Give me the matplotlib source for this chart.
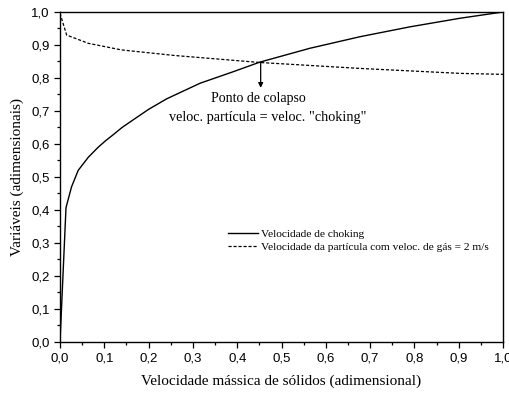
import numpy as np
import matplotlib.pyplot as plt
from matplotlib.ticker import MultipleLocator, FuncFormatter

# dados
x_choking = [0.0, 0.0135, 0.026, 0.041, 0.064, 0.086, 0.103, 0.120, 0.140, 0.165,
             0.200, 0.241, 0.316, 0.391, 0.451, 0.564, 0.677, 0.790, 0.903, 1.0]
y_choking = [0.0, 0.407, 0.47, 0.52, 0.56, 0.59, 0.61, 0.628, 0.650, 0.673,
             0.705, 0.737, 0.784, 0.819, 0.848, 0.890, 0.925, 0.955, 0.981, 1.0]

x_part = [0.0, 0.015, 0.064, 0.139, 0.26, 0.451, 0.677, 0.903, 1.0]
y_part = [0.996, 0.93, 0.905, 0.885, 0.868, 0.847, 0.829, 0.814, 0.811]

ponto = (0.453, 0.848)

plt.rcParams['font.family'] = ['Liberation Serif', 'DejaVu Serif']

fig = plt.figure(figsize=(5.09, 3.93), dpi=100)
ax = fig.add_axes([0.1179, 0.1298, 0.8703, 0.8397])

ax.plot(x_choking, y_choking, color='black', lw=1.0, label='Velocidade de choking')
ax.plot(x_part, y_part, color='black', lw=0.9, ls=(0, (2.5, 1.5)),
        label='Velocidade da partícula com veloc. de gás = 2 m/s')

ax.annotate('', xy=(ponto[0], 0.77), xytext=ponto,
            arrowprops=dict(arrowstyle='-|>', color='black', lw=0.9,
                            mutation_scale=7, shrinkA=0, shrinkB=0))
ax.text(0.448, 0.737, 'Ponto de colapso', fontsize=10, ha='center', va='center')
ax.text(0.468, 0.680, 'veloc. partícula = veloc. "choking"', fontsize=10.3,
        ha='center', va='center')

ax.set_xlim(0, 1)
ax.set_ylim(0, 1)
ax.xaxis.set_major_locator(MultipleLocator(0.1))
ax.xaxis.set_minor_locator(MultipleLocator(0.05))
ax.yaxis.set_major_locator(MultipleLocator(0.1))
ax.yaxis.set_minor_locator(MultipleLocator(0.05))
fmt = FuncFormatter(lambda v, p: f'{v:.1f}'.replace('.', ','))
ax.xaxis.set_major_formatter(fmt)
ax.yaxis.set_major_formatter(fmt)
ax.tick_params(which='major', length=4, width=0.9, direction='out')
ax.tick_params(which='minor', length=2.5, width=0.9, direction='out')
for lab in ax.get_xticklabels() + ax.get_yticklabels():
    lab.set_family(['Liberation Sans', 'DejaVu Sans'])
    lab.set_fontsize(9.5)
for s in ax.spines.values():
    s.set_linewidth(1.0)

ax.set_xlabel('Velocidade mássica de sólidos (adimensional)', fontsize=11, labelpad=7)
ax.set_ylabel('Variáveis (adimensionais)', fontsize=11, labelpad=5)

ax.legend(loc='upper left', bbox_to_anchor=(0.379, 0.343), frameon=False,
          fontsize=8.2, handlelength=2.6, handletextpad=0.3, labelspacing=0.25,
          borderaxespad=0, borderpad=0)

fig.savefig('out.png', dpi=100)
